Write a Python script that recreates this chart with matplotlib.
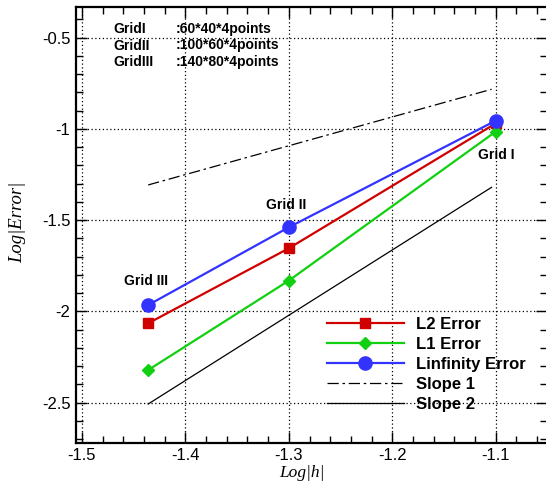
import matplotlib
matplotlib.use("Agg")
import matplotlib.pyplot as plt
from matplotlib.ticker import MultipleLocator, FuncFormatter

# ---- data ----
log_h = [-1.436, -1.30, -1.10]
l2_err = [-2.065, -1.654, -0.970]
l1_err = [-2.321, -1.831, -1.015]
linf_err = [-1.965, -1.539, -0.955]
slope1_x = [-1.436, -1.104]
slope1_y = [-1.307, -0.783]
slope2_x = [-1.436, -1.104]
slope2_y = [-2.507, -1.320]
grid_names = ["Grid III", "Grid II", "Grid I"]
header_names = ["GridI", "GridII", "GridIII"]
header_sizes = [":60*40*4points", ":100*60*4points", ":140*80*4points"]
x_ticks = [-1.5, -1.4, -1.3, -1.2, -1.1]
y_ticks = [-2.5, -2.0, -1.5, -1.0, -0.5]

SANS = ["Liberation Sans", "DejaVu Sans"]
SERIF = ["Liberation Serif", "DejaVu Serif"]
plt.rcParams["font.family"] = SANS

fig = plt.figure(figsize=(5.46, 4.86), dpi=100)
W, H = 546, 486
x0, x1, ytop, ybot = 76, 547.4, 7.5, 442.7
ax = fig.add_axes([x0 / W, 1 - ybot / H, (x1 - x0) / W, (ybot - ytop) / H])
ax.set_xlim(-1.5058, -1.05)
ax.set_ylim(-2.719, -0.335)

ax.set_xticks(x_ticks)
ax.set_yticks(y_ticks)
ax.xaxis.set_minor_locator(MultipleLocator(0.02))
ax.yaxis.set_minor_locator(MultipleLocator(0.1))
fmt = FuncFormatter(lambda v, p: ("%g" % v))
ax.xaxis.set_major_formatter(fmt)
ax.yaxis.set_major_formatter(fmt)
ax.tick_params(which="both", direction="in", top=True, right=True, color="black")
ax.tick_params(which="major", length=8, width=1.0, labelsize=12, pad=4)
ax.tick_params(which="minor", length=5, width=1.0)
for s in ax.spines.values():
    s.set_linewidth(1.6)
ax.grid(True, which="major", color="black", linestyle=(0, (1, 2)), linewidth=0.9)

ax.plot(slope1_x, slope1_y, color="black", lw=0.9, dashes=(9, 3, 2, 3), label="Slope 1", zorder=3)
ax.plot(slope2_x, slope2_y, color="black", lw=0.9, label="Slope 2", zorder=3)
ax.plot(log_h, l2_err, color="#d10000", lw=1.6, marker="s", ms=6.5, label="L2 Error", zorder=4)
ax.plot(log_h, l1_err, color="#11d011", lw=1.6, marker="D", ms=6, label="L1 Error", zorder=4)
ax.plot(log_h, linf_err, color="#3333ff", lw=1.6, marker="o", ms=9.5, label="Linfinity Error", zorder=5)

handles, labels = ax.get_legend_handles_labels()
order = [2, 3, 4, 0, 1]
leg = ax.legend([handles[i] for i in order], [labels[i] for i in order],
                loc="upper left", bbox_to_anchor=(327 / W, 1 - 317 / H),
                bbox_transform=fig.transFigure, frameon=False,
                prop={"family": SANS, "weight": "bold", "size": 12},
                handlelength=4.6, handletextpad=0.75, labelspacing=0.3,
                borderpad=0, borderaxespad=0, markerscale=1.0)

# point annotations
ann_pos = [(146, 281), (286, 205), (496, 155)]
for name, (px, py) in zip(grid_names, ann_pos):
    fig.text(px / W, 1 - py / H, name, ha="center", va="center",
             fontsize=10, fontweight="bold")

# header text
for i, (n, s) in enumerate(zip(header_names, header_sizes)):
    yy = 1 - (29 + 16.5 * i) / H
    fig.text(113 / W, yy, n, ha="left", va="center", fontsize=10, fontweight="bold")
    fig.text(176 / W, yy, s, ha="left", va="center", fontsize=10, fontweight="bold")

fig.text(302 / W, 1 - 473 / H, "Log|h|", ha="center", va="center",
         fontsize=12.5, style="italic", family=SERIF)
fig.text(18 / W, 1 - 222 / H, "Log|Error|", ha="center", va="center",
         fontsize=13.5, style="italic", family=SERIF, rotation=90)

fig.savefig("out.png", dpi=100)
